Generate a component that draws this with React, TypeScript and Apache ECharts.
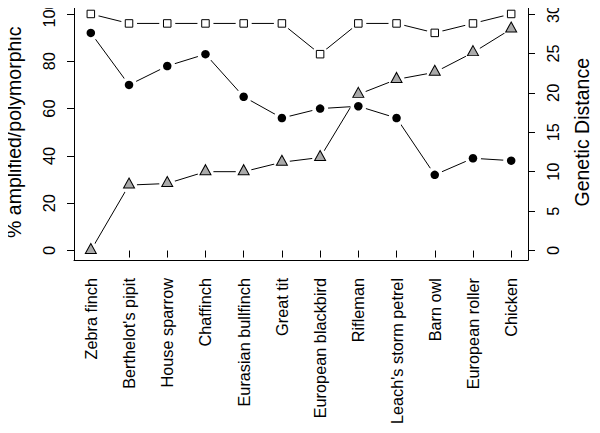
import React, { useEffect, useRef } from "react";
import * as echarts from "echarts";

const categories = [
  "Zebra finch",
  "Berthelot's pipit",
  "House sparrow",
  "Chaffinch",
  "Eurasian bullfinch",
  "Great tit",
  "European blackbird",
  "Rifleman",
  "Leach's storm petrel",
  "Barn owl",
  "European roller",
  "Chicken",
];

// % amplified (squares, left axis)
const amplified = [100, 96, 96, 96, 96, 96, 83, 96, 96, 92, 96, 100];
// % polymorphic (circles, left axis)
const polymorphic = [92, 70, 78, 83, 65, 56, 60, 61, 56, 32, 39, 38];
// Genetic distance (triangles, right axis)
const geneticDistance = [0, 8.3, 8.5, 10.0, 10.0, 11.2, 11.8, 19.8, 21.7, 22.6, 25.1, 28.1];

const leftTicks = [0, 20, 40, 60, 80, 100];
const rightTicks = [0, 5, 10, 15, 20, 25, 30];

const leftTitle = "% amplified/polymorphic";
const rightTitle = "Genetic Distance";

const FONT = "Liberation Sans, Arial, Helvetica, sans-serif";

export default function App() {
  const ref = useRef<HTMLDivElement>(null);

  useEffect(() => {
    if (!ref.current) return;
    const chart = echarts.init(ref.current, null, { renderer: "svg" });

    const plotLeft = 74;
    const plotRight = 528;
    const plotTop = 4.5;
    const plotBottom = 260;
    const n = categories.length;
    const step = (plotRight - plotLeft) / ((n - 1) * 1.08);
    const padX = 0.04 * (n - 1) * step;
    const dataLeft = plotLeft + padX;
    const dataRight = plotRight - padX;
    const h = plotBottom - plotTop;
    const padY = (h * 0.04) / 1.08;
    const dataTop = plotTop + padY;
    const dataBottom = plotBottom - padY;
    const midY = (plotTop + plotBottom) / 2;

    const W = 600;
    const H = 433;

    const tickLabel = { fontFamily: FONT, fontSize: 16.3, color: "#000" };
    const hidden = { opacity: 0, width: 0 };

    const makeSeries = (
      name: string,
      data: number[],
      yAxisIndex: number,
      symbol: string,
      symbolSize: number | number[],
      symbolOffset: number[],
      itemStyle: any
    ) => [
      {
        name: name + " line",
        type: "line",
        xAxisIndex: 0,
        yAxisIndex,
        data,
        showSymbol: false,
        symbol: "none",
        lineStyle: { color: "#000", width: 1 },
        z: 2,
        silent: true,
      },
      {
        name: name + " gap",
        type: "line",
        xAxisIndex: 0,
        yAxisIndex,
        data,
        symbol: "circle",
        symbolSize: 16,
        itemStyle: { color: "#fff", borderWidth: 0 },
        lineStyle: hidden,
        z: 3,
        silent: true,
      },
      {
        name,
        type: "line",
        xAxisIndex: 0,
        yAxisIndex,
        data,
        symbol,
        symbolSize,
        symbolOffset,
        itemStyle,
        lineStyle: hidden,
        z: 4,
      },
    ];

    const frameAxis = {
      type: "value",
      gridIndex: 1,
      min: 0,
      max: 1,
      axisLine: { show: true, onZero: false, lineStyle: { color: "#000", width: 1 } },
      axisTick: { show: false },
      axisLabel: { show: false },
      splitLine: { show: false },
    };

    chart.setOption({
      animation: false,
      backgroundColor: "#fff",
      grid: [
        {
          left: dataLeft,
          right: W - dataRight,
          top: dataTop,
          bottom: H - dataBottom,
          containLabel: false,
          outerBoundsMode: "none",
        },
        {
          left: plotLeft,
          right: W - plotRight,
          top: plotTop,
          bottom: H - plotBottom,
          containLabel: false,
          outerBoundsMode: "none",
        },
      ],
      graphic: [
        {
          type: "text",
          x: 14,
          y: midY,
          rotation: Math.PI / 2,
          style: {
            text: leftTitle,
            align: "center",
            verticalAlign: "middle",
            fontFamily: FONT,
            fontSize: 19.5,
            fill: "#000",
          },
        },
        {
          type: "text",
          x: 582,
          y: midY,
          rotation: Math.PI / 2,
          style: {
            text: rightTitle,
            align: "center",
            verticalAlign: "middle",
            fontFamily: FONT,
            fontSize: 19.5,
            fill: "#000",
          },
        },
      ],
      xAxis: [
        {
          type: "category",
          gridIndex: 0,
          data: categories,
          boundaryGap: false,
          offset: plotBottom - dataBottom,
          axisLine: { show: false },
          axisTick: {
            show: true,
            length: 7,
            alignWithLabel: true,
            lineStyle: { color: "#000", width: 1 },
          },
          axisLabel: {
            ...tickLabel,
            rotate: 90,
            interval: 0,
            margin: 18,
          },
          splitLine: { show: false },
        },
        { ...frameAxis },
      ],
      yAxis: [
        {
          type: "value",
          gridIndex: 0,
          position: "left",
          min: 0,
          max: 100,
          interval: 20,
          offset: dataLeft - plotLeft,
          axisLine: { show: false },
          axisTick: { show: true, length: 7, lineStyle: { color: "#000", width: 1 } },
          axisLabel: {
            ...tickLabel,
            rotate: 90,
            margin: 17,
            customValues: leftTicks,
          },
          splitLine: { show: false },
        },
        {
          type: "value",
          gridIndex: 0,
          position: "right",
          min: 0,
          max: 30,
          interval: 5,
          offset: plotRight - dataRight,
          axisLine: { show: false },
          axisTick: { show: true, length: 7, lineStyle: { color: "#000", width: 1 } },
          axisLabel: {
            ...tickLabel,
            rotate: 90,
            margin: 17,
            customValues: rightTicks,
          },
          splitLine: { show: false },
        },
        { ...frameAxis, position: "left" },
        { ...frameAxis, position: "right" },
      ],
      series: [
        ...makeSeries("Amplified", amplified, 0, "rect", 7.5, [0, 0], {
          color: "#fff",
          borderColor: "#000",
          borderWidth: 1,
        }),
        ...makeSeries("Polymorphic", polymorphic, 0, "circle", 8.5, [0, 0], {
          color: "#000",
          borderWidth: 0,
        }),
        ...makeSeries("Genetic Distance", geneticDistance, 1, "triangle", [11, 10], [0, -2], {
          color: "#aaaaaa",
          borderColor: "#000",
          borderWidth: 1,
        }),
      ],
    });

    return () => chart.dispose();
  }, []);

  return <div ref={ref} style={{ width: 600, height: 433, margin: -8 }} />;
}
